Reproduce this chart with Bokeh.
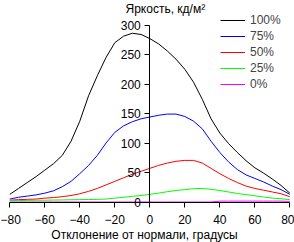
from bokeh.plotting import figure
from bokeh.models import (LinearAxis, FixedTicker, Range1d, Legend, LegendItem,
                          Label, ColumnDataSource)
from bokeh.embed import file_html
from bokeh.resources import INLINE

# ---- data ----
angles = [-80, -75, -70, -65, -60, -55, -50, -45, -40, -35, -30, -25, -20, -15, -10, -5,
          0, 5, 10, 15, 20, 25, 30, 35, 40, 45, 50, 55, 60, 65, 70, 75, 80]
lum_100 = [13, 23, 33, 43, 54, 65, 79, 103, 137, 180, 214, 245, 270, 281, 286, 284,
           277, 268, 256, 242, 225, 203, 174, 141, 117, 99, 84, 70, 58, 49, 39, 28, 15]
lum_75 = [5, 8, 10, 12, 15, 19, 26, 35, 48, 62, 79, 100, 118, 129, 136, 141,
          144, 147, 149, 149, 145, 137, 124, 103, 84, 68, 55, 46, 40, 34, 27, 21, 13]
lum_50 = [3, 4, 4.5, 5, 6.5, 7.5, 9, 11, 14, 18, 23, 29, 35, 41, 47, 52,
          57, 62, 66, 69, 70.5, 70.5, 66, 57, 48, 40, 33, 27, 23, 20, 17, 14, 9]
lum_25 = [2.5, 2.5, 2.7, 3, 3, 3.3, 3.5, 3.8, 4, 4.2, 4.5, 5, 6.5, 8, 9.6, 11,
          13, 15, 17.5, 19.5, 21, 22.5, 23, 21.5, 19.5, 17, 14.5, 12.5, 10.5, 8.5, 6.5, 5.5, 4]
lum_0 = [0, 0, 0, 0, 0, 0, 0, 0, 0, 0, 0, 0, 0, 0, 0, 0,
         0, 0, 0, 0, 0, 0, 0, 0, 1.5, 1.5, 1.5, 1.5, 1.5, 1.5, 1.5, 1.5, 1]
series_labels = ["100%", "75%", "50%", "25%", "0%"]
series_colors = ["#000000", "#0000FF", "#FF0000", "#00FF00", "#FF00FF"]
x_ticks = [-80, -60, -40, -20, 0, 20, 40, 60, 80]
y_ticks = [0, 50, 100, 150, 200, 250, 300]
title_text = "Яркость, кд/м²"
x_title = "Отклонение от нормали, градусы"

FONT = "Liberation Sans"
FS = "12px"

W, H = 294, 242
# pixel geometry of the reference plot area (frame covers whole canvas)
X_SCALE = 280.0 / 160.0          # px per degree
X_MIN_PX = 9.3                   # pixel column of -80
Y_SCALE = 177.0 / 300.0          # px per unit
Y_ZERO_PX = 201.5                # pixel row of value 0 from top
x_lo = -80 - X_MIN_PX / X_SCALE
x_hi = 80 + (W - X_MIN_PX - 280.0) / X_SCALE
y_top = Y_ZERO_PX / Y_SCALE
y_bot = -(H - Y_ZERO_PX) / Y_SCALE

p = figure(width=W, height=H, output_backend="svg", toolbar_location=None,
           x_range=Range1d(x_lo, x_hi), y_range=Range1d(y_bot, y_top),
           x_axis_type=None, y_axis_type=None, min_border=0,
           min_border_left=0, min_border_right=0, min_border_top=0, min_border_bottom=0)
p.outline_line_color = None
p.background_fill_color = "white"
p.border_fill_color = "white"

src = ColumnDataSource(dict(x=angles, s100=lum_100, s75=lum_75, s50=lum_50, s25=lum_25, s0=lum_0))
cols = ["s100", "s75", "s50", "s25", "s0"]
renderers = []
for col, color in zip(cols, series_colors):
    r = p.line("x", col, source=src, line_color=color, line_width=1)
    renderers.append(r)

xaxis = LinearAxis(ticker=FixedTicker(ticks=x_ticks), fixed_location=0, bounds=(-80, 80))
yaxis = LinearAxis(ticker=FixedTicker(ticks=y_ticks), fixed_location=0, bounds=(0, 300))
for ax in (xaxis, yaxis):
    ax.axis_line_color = "black"
    ax.major_tick_line_color = "black"
    ax.major_tick_out = 5
    ax.major_tick_in = 0
    ax.minor_tick_line_color = None
    ax.major_label_text_font = FONT
    ax.major_label_text_font_size = FS
    ax.major_label_text_color = "black"
xaxis.major_label_standoff = 8
yaxis.major_label_standoff = 4
p.add_layout(xaxis, "below")
p.add_layout(yaxis, "left")

legend = Legend(items=[LegendItem(label=l, renderers=[r]) for l, r in zip(series_labels, renderers)],
                location=(220, 150), padding=0, margin=0, spacing=0,
                glyph_width=25, glyph_height=16, label_height=16, label_standoff=5,
                label_text_font=FONT, label_text_font_size=FS,
                border_line_color=None, background_fill_alpha=0)
p.add_layout(legend)

p.add_layout(Label(x=125, y=234, x_units="screen", y_units="screen", text=title_text,
                   text_font=FONT, text_font_size=FS, text_baseline="alphabetic",
                   text_color="black"))
p.add_layout(Label(x=144, y=8, x_units="screen", y_units="screen", text=x_title,
                   text_font=FONT, text_font_size=FS, text_baseline="alphabetic",
                   text_align="center", text_color="black"))

open("out.html", "w").write(file_html(p, INLINE))
